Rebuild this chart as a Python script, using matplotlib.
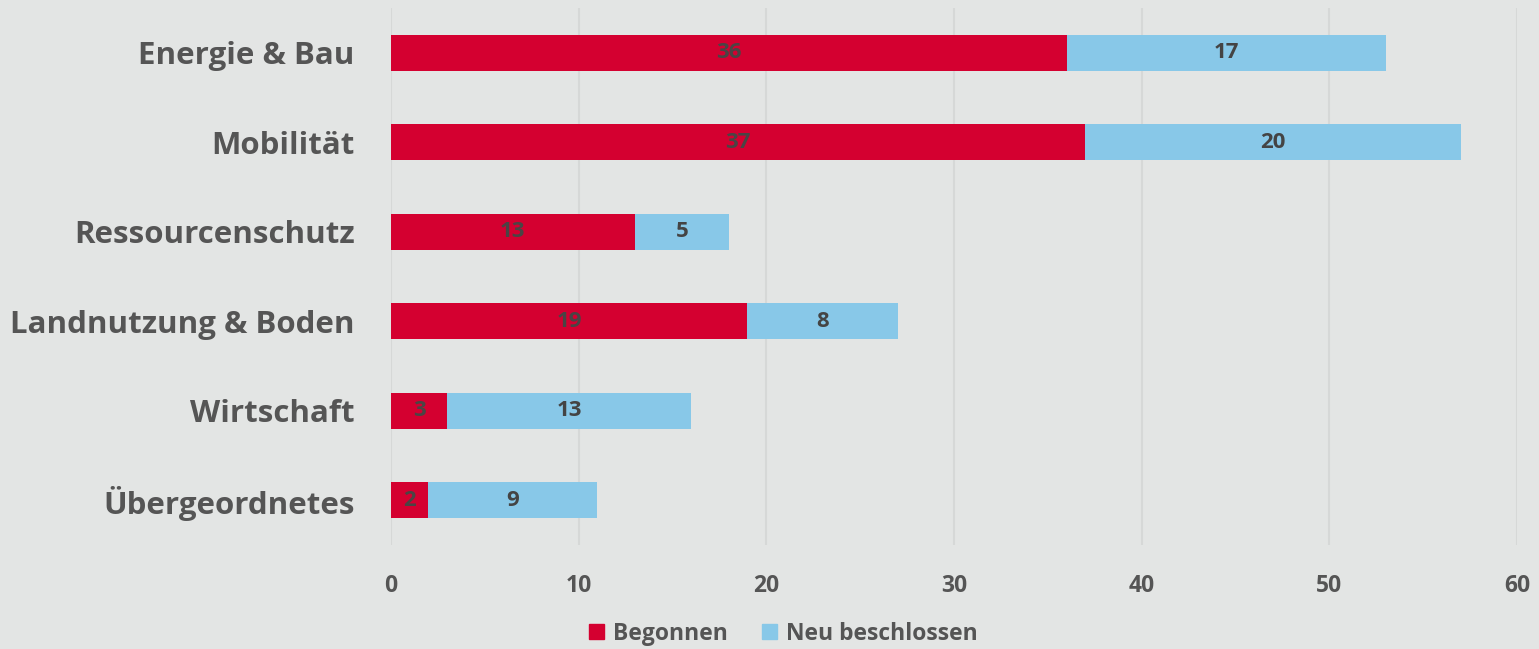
import matplotlib
matplotlib.use("Agg")
import matplotlib.pyplot as plt
from matplotlib.patches import Patch

categories = ["Energie & Bau", "Mobilität", "Ressourcenschutz",
              "Landnutzung & Boden", "Wirtschaft", "Übergeordnetes"]
begonnen = [36, 37, 13, 19, 3, 2]
neu_beschlossen = [17, 20, 5, 8, 13, 9]
xticks = [0, 10, 20, 30, 40, 50, 60]
series_names = ["Begonnen", "Neu beschlossen"]

BG = "#e3e5e4"
RED = "#d40030"
BLUE = "#88c8e8"
TXT = "#555555"
GRID = "#d6d8d7"

plt.rcParams['font.family'] = ['Open Sans', 'DejaVu Sans']

fig = plt.figure(figsize=(15.39, 6.49), dpi=100, facecolor=BG)
ax = fig.add_axes([0.254, 0.160, 0.7317, 0.8277], facecolor=BG)

y = list(range(len(categories)))
h = 0.4
ax.barh(y, begonnen, height=h, color=RED, zorder=3)
ax.barh(y, neu_beschlossen, left=begonnen, height=h, color=BLUE, zorder=3)

for yi, b, n in zip(y, begonnen, neu_beschlossen):
    ax.text(b / 2, yi, str(b), ha="center", va="center", fontsize=16,
            color="#4a4444", fontweight="bold", zorder=4)
    ax.text(b + n / 2, yi, str(n), ha="center", va="center", fontsize=16,
            color="#444444", fontweight="bold", zorder=4)

ax.set_xlim(0, 60)
ax.set_ylim(len(categories) - 0.5, -0.5)
ax.set_xticks(xticks)
ax.set_xticklabels([str(t) for t in xticks], fontsize=16.5, color=TXT, fontweight="bold")
ax.set_yticks(y)
ax.set_yticklabels(categories, fontsize=22.5, color=TXT, fontweight="bold")
ax.tick_params(axis="both", length=0)
ax.tick_params(axis="x", pad=21)
ax.tick_params(axis="y", pad=26)
ax.grid(axis="x", color=GRID, linewidth=1.5, zorder=0)
for s in ax.spines.values():
    s.set_visible(False)

handles = [Patch(color=RED, label=series_names[0]), Patch(color=BLUE, label=series_names[1])]
leg = fig.legend(handles=handles, loc="lower center", bbox_to_anchor=(0.509, -0.027), ncol=2,
                 frameon=False, fontsize=16.5, handlelength=0.65, handleheight=0.65,
                 handletextpad=0.4, columnspacing=1.5)
for t in leg.get_texts():
    t.set_color(TXT)
    t.set_fontweight("bold")

fig.savefig("out.png", dpi=100, facecolor=BG)
